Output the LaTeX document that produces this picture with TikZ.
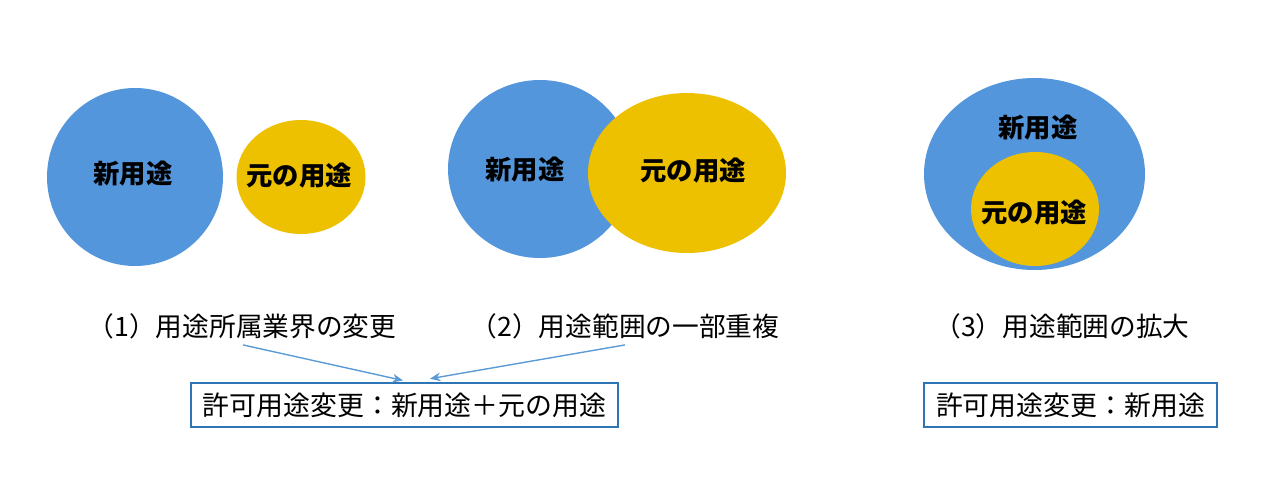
\documentclass[tikz,border=0pt]{standalone}
\usepackage{fontspec}
\setmainfont{Noto Sans CJK JP}
\usetikzlibrary{arrows.meta}

\definecolor{useblue}{RGB}{84,150,219}
\definecolor{usegold}{RGB}{237,192,0}
\definecolor{boxblue}{RGB}{46,117,182}
\definecolor{arrowblue}{RGB}{91,155,213}

\begin{document}
\begin{tikzpicture}[x=0.02cm,y=-0.02cm,
    usetext/.style={font=\fontsize{15}{18}\selectfont\bfseries},
    caption/.style={font=\fontsize{15.2}{18}\selectfont},
    result/.style={draw=boxblue,line width=0.9pt,inner sep=0pt,minimum height=0.88cm,
        font=\fontsize{15.3}{18}\selectfont},
    link/.style={draw=arrowblue,line width=0.8pt,-{Stealth[length=6pt,width=5pt]}}]

    % Fix the page to the reference size
    \useasboundingbox (0,0) rectangle (1288,480);

    % (1) separate uses
    \fill[useblue] (135,177) ellipse [x radius=88, y radius=89];
    \fill[usegold] (301,177) ellipse [x radius=64.5, y radius=57];
    \node[usetext] (newA) at (133,174) {新用途};
    \node[usetext] (oldA) at (299,176) {元の用途};

    % (2) partly overlapping uses
    \fill[useblue] (540,169) ellipse [x radius=92, y radius=89];
    \fill[usegold] (687,173) ellipse [x radius=99, y radius=80];
    \node[usetext] (newB) at (525,170) {新用途};
    \node[usetext] (oldB) at (693,171) {元の用途};

    % (3) enlarged use
    \fill[useblue] (1034.5,174) ellipse [x radius=110.5, y radius=96];
    \fill[usegold] (1035,209) ellipse [x radius=64, y radius=57];
    \node[usetext] (newC) at (1038,128) {新用途};
    \node[usetext] (oldC) at (1034,213) {元の用途};

    % Captions
    \node[caption] (capA) at (242,326) {（1）用途所属業界の変更};
    \node[caption] (capB) at (625,326) {（2）用途範囲の一部重複};
    \node[caption] (capC) at (1062,326) {（3）用途範囲の拡大};

    % Result boxes
    \node[result,minimum width=8.54cm] (boxA) at (404.5,405) {許可用途変更：新用途＋元の用途};
    \node[result,minimum width=5.86cm] (boxC) at (1070.5,405) {許可用途変更：新用途};

    % Arrows into the first box
    \draw[link] ([xshift=1*0.02cm,yshift=0pt]capA.south) -- ([xshift=-1.5*0.02cm,yshift=1pt]boxA.north);
    \draw[link] ([xshift=0*0.02cm,yshift=0pt]capB.south) -- ([xshift=25.5*0.02cm,yshift=2pt]boxA.north);

\end{tikzpicture}
\end{document}
